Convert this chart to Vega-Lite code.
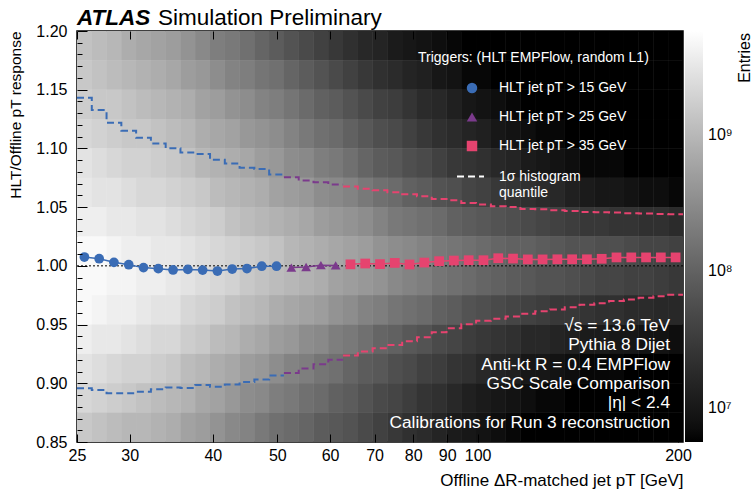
{
"$schema": "https://vega.github.io/schema/vega-lite/v6.json",
"width": 606, "height": 411,
"autosize": {"type": "none"},
"padding": {"left": 77, "top": 31, "right": 73, "bottom": 52},
"background": "white",
"config": {"font": "Liberation Sans", "view": {"stroke": "black", "strokeWidth": 1.5}, "axis": {"grid": false, "labelColor": "black", "titleColor": "black", "titleFontWeight": "normal"}},
"datasets": {
"xbins": [{"i":0,"x0":25,"x1":26.312},{"i":1,"x0":26.312,"x1":27.692},{"i":2,"x0":27.692,"x1":29.145},{"i":3,"x0":29.145,"x1":30.675},{"i":4,"x0":30.675,"x1":32.284},{"i":5,"x0":32.284,"x1":33.978},{"i":6,"x0":33.978,"x1":35.761},{"i":7,"x0":35.761,"x1":37.637},{"i":8,"x0":37.637,"x1":39.612},{"i":9,"x0":39.612,"x1":41.691},{"i":10,"x0":41.691,"x1":43.878},{"i":11,"x0":43.878,"x1":46.18},{"i":12,"x0":46.18,"x1":48.604},{"i":13,"x0":48.604,"x1":51.154},{"i":14,"x0":51.154,"x1":53.838},{"i":15,"x0":53.838,"x1":56.663},{"i":16,"x0":56.663,"x1":59.636},{"i":17,"x0":59.636,"x1":62.765},{"i":18,"x0":62.765,"x1":66.058},{"i":19,"x0":66.058,"x1":69.524},{"i":20,"x0":69.524,"x1":73.172},{"i":21,"x0":73.172,"x1":77.011},{"i":22,"x0":77.011,"x1":81.052},{"i":23,"x0":81.052,"x1":85.305},{"i":24,"x0":85.305,"x1":89.781},{"i":25,"x0":89.781,"x1":94.492},{"i":26,"x0":94.492,"x1":99.45},{"i":27,"x0":99.45,"x1":104.668},{"i":28,"x0":104.668,"x1":110.16},{"i":29,"x0":110.16,"x1":115.94},{"i":30,"x0":115.94,"x1":122.023},{"i":31,"x0":122.023,"x1":128.426},{"i":32,"x0":128.426,"x1":135.164},{"i":33,"x0":135.164,"x1":142.256},{"i":34,"x0":142.256,"x1":149.72},{"i":35,"x0":149.72,"x1":157.576},{"i":36,"x0":157.576,"x1":165.844},{"i":37,"x0":165.844,"x1":174.546},{"i":38,"x0":174.546,"x1":183.704},{"i":39,"x0":183.704,"x1":193.343},{"i":40,"x0":193.343,"x1":203.488}],
"ybins": [{"j":0,"y0":0.85,"y1":0.875},{"j":1,"y0":0.875,"y1":0.9},{"j":2,"y0":0.9,"y1":0.925},{"j":3,"y0":0.925,"y1":0.95},{"j":4,"y0":0.95,"y1":0.975},{"j":5,"y0":0.975,"y1":1.0},{"j":6,"y0":1.0,"y1":1.025},{"j":7,"y0":1.025,"y1":1.05},{"j":8,"y0":1.05,"y1":1.075},{"j":9,"y0":1.075,"y1":1.1},{"j":10,"y0":1.1,"y1":1.125},{"j":11,"y0":1.125,"y1":1.15},{"j":12,"y0":1.15,"y1":1.175},{"j":13,"y0":1.175,"y1":1.2}],
"cells": [
{"i":0,"j":13,"n":1.3e9},{"i":1,"j":13,"n":1.1e9},{"i":2,"j":13,"n":9.8e8},{"i":3,"j":13,"n":7.5e8},{"i":4,"j":13,"n":6.5e8},{"i":5,"j":13,"n":5.7e8},{"i":6,"j":13,"n":5e8},{"i":7,"j":13,"n":3.8e8},{"i":8,"j":13,"n":2.9e8},{"i":9,"j":13,"n":2.2e8},{"i":10,"j":13,"n":1.9e8},{"i":11,"j":13,"n":1.5e8},{"i":12,"j":13,"n":1.1e8},{"i":13,"j":13,"n":8.5e7},{"i":14,"j":13,"n":6.5e7},{"i":15,"j":13,"n":4.9e7},{"i":16,"j":13,"n":3.8e7},{"i":17,"j":13,"n":2.9e7},{"i":18,"j":13,"n":2.2e7},{"i":19,"j":13,"n":1.7e7},{"i":20,"j":13,"n":1.5e7},{"i":21,"j":13,"n":1.1e7},{"i":22,"j":13,"n":9.7e6},{"i":23,"j":13,"n":8.5e6},{"i":24,"j":13,"n":7.4e6},{"i":25,"j":13,"n":6.4e6},{"i":26,"j":13,"n":4e6},{"i":27,"j":13,"n":4e6},{"i":28,"j":13,"n":4e6},{"i":29,"j":13,"n":4e6},{"i":30,"j":13,"n":4e6},{"i":31,"j":13,"n":4e6},{"i":32,"j":13,"n":4e6},{"i":33,"j":13,"n":4e6},{"i":34,"j":13,"n":4e6},{"i":35,"j":13,"n":4e6},{"i":36,"j":13,"n":4e6},{"i":37,"j":13,"n":4e6},{"i":38,"j":13,"n":4e6},{"i":39,"j":13,"n":4e6},{"i":40,"j":13,"n":4e6},
{"i":0,"j":12,"n":1.5e9},{"i":1,"j":12,"n":1.3e9},{"i":2,"j":12,"n":1.1e9},{"i":3,"j":12,"n":9.8e8},{"i":4,"j":12,"n":8.6e8},{"i":5,"j":12,"n":7.5e8},{"i":6,"j":12,"n":6.5e8},{"i":7,"j":12,"n":5e8},{"i":8,"j":12,"n":4.4e8},{"i":9,"j":12,"n":3.3e8},{"i":10,"j":12,"n":2.5e8},{"i":11,"j":12,"n":2.2e8},{"i":12,"j":12,"n":1.7e8},{"i":13,"j":12,"n":1.5e8},{"i":14,"j":12,"n":1.1e8},{"i":15,"j":12,"n":8.5e7},{"i":16,"j":12,"n":6.5e7},{"i":17,"j":12,"n":4.9e7},{"i":18,"j":12,"n":3.8e7},{"i":19,"j":12,"n":2.9e7},{"i":20,"j":12,"n":2.2e7},{"i":21,"j":12,"n":1.9e7},{"i":22,"j":12,"n":1.5e7},{"i":23,"j":12,"n":1.3e7},{"i":24,"j":12,"n":9.7e6},{"i":25,"j":12,"n":8.5e6},{"i":26,"j":12,"n":6.4e6},{"i":27,"j":12,"n":6.4e6},{"i":28,"j":12,"n":4e6},{"i":29,"j":12,"n":4e6},{"i":30,"j":12,"n":4e6},{"i":31,"j":12,"n":4e6},{"i":32,"j":12,"n":4e6},{"i":33,"j":12,"n":4e6},{"i":34,"j":12,"n":4e6},{"i":35,"j":12,"n":4e6},{"i":36,"j":12,"n":4e6},{"i":37,"j":12,"n":4e6},{"i":38,"j":12,"n":4e6},{"i":39,"j":12,"n":4e6},{"i":40,"j":12,"n":4e6},
{"i":0,"j":11,"n":1.7e9},{"i":1,"j":11,"n":1.5e9},{"i":2,"j":11,"n":1.5e9},{"i":3,"j":11,"n":1.3e9},{"i":4,"j":11,"n":1.1e9},{"i":5,"j":11,"n":9.8e8},{"i":6,"j":11,"n":8.6e8},{"i":7,"j":11,"n":7.5e8},{"i":8,"j":11,"n":5.7e8},{"i":9,"j":11,"n":5e8},{"i":10,"j":11,"n":3.8e8},{"i":11,"j":11,"n":3.3e8},{"i":12,"j":11,"n":2.5e8},{"i":13,"j":11,"n":2.2e8},{"i":14,"j":11,"n":1.7e8},{"i":15,"j":11,"n":1.3e8},{"i":16,"j":11,"n":9.8e7},{"i":17,"j":11,"n":8.5e7},{"i":18,"j":11,"n":6.5e7},{"i":19,"j":11,"n":4.9e7},{"i":20,"j":11,"n":3.8e7},{"i":21,"j":11,"n":3.3e7},{"i":22,"j":11,"n":2.5e7},{"i":23,"j":11,"n":1.9e7},{"i":24,"j":11,"n":1.7e7},{"i":25,"j":11,"n":1.3e7},{"i":26,"j":11,"n":9.7e6},{"i":27,"j":11,"n":8.5e6},{"i":28,"j":11,"n":7.4e6},{"i":29,"j":11,"n":6.4e6},{"i":30,"j":11,"n":4e6},{"i":31,"j":11,"n":4e6},{"i":32,"j":11,"n":4e6},{"i":33,"j":11,"n":4e6},{"i":34,"j":11,"n":4e6},{"i":35,"j":11,"n":4e6},{"i":36,"j":11,"n":4e6},{"i":37,"j":11,"n":4e6},{"i":38,"j":11,"n":4e6},{"i":39,"j":11,"n":4e6},{"i":40,"j":11,"n":4e6},
{"i":0,"j":10,"n":2.2e9},{"i":1,"j":10,"n":1.9e9},{"i":2,"j":10,"n":1.7e9},{"i":3,"j":10,"n":1.5e9},{"i":4,"j":10,"n":1.5e9},{"i":5,"j":10,"n":1.3e9},{"i":6,"j":10,"n":1.1e9},{"i":7,"j":10,"n":9.8e8},{"i":8,"j":10,"n":7.5e8},{"i":9,"j":10,"n":6.5e8},{"i":10,"j":10,"n":5.7e8},{"i":11,"j":10,"n":4.4e8},{"i":12,"j":10,"n":3.8e8},{"i":13,"j":10,"n":3.3e8},{"i":14,"j":10,"n":2.5e8},{"i":15,"j":10,"n":1.9e8},{"i":16,"j":10,"n":1.5e8},{"i":17,"j":10,"n":1.3e8},{"i":18,"j":10,"n":9.8e7},{"i":19,"j":10,"n":7.4e7},{"i":20,"j":10,"n":5.7e7},{"i":21,"j":10,"n":4.9e7},{"i":22,"j":10,"n":3.8e7},{"i":23,"j":10,"n":2.9e7},{"i":24,"j":10,"n":2.2e7},{"i":25,"j":10,"n":1.9e7},{"i":26,"j":10,"n":1.5e7},{"i":27,"j":10,"n":1.3e7},{"i":28,"j":10,"n":9.7e6},{"i":29,"j":10,"n":8.5e6},{"i":30,"j":10,"n":7.4e6},{"i":31,"j":10,"n":6.4e6},{"i":32,"j":10,"n":6.4e6},{"i":33,"j":10,"n":4e6},{"i":34,"j":10,"n":4e6},{"i":35,"j":10,"n":4e6},{"i":36,"j":10,"n":4e6},{"i":37,"j":10,"n":4e6},{"i":38,"j":10,"n":4e6},{"i":39,"j":10,"n":4e6},{"i":40,"j":10,"n":4e6},
{"i":0,"j":9,"n":2.9e9},{"i":1,"j":9,"n":2.5e9},{"i":2,"j":9,"n":2.2e9},{"i":3,"j":9,"n":1.9e9},{"i":4,"j":9,"n":1.9e9},{"i":5,"j":9,"n":1.7e9},{"i":6,"j":9,"n":1.5e9},{"i":7,"j":9,"n":1.3e9},{"i":8,"j":9,"n":9.8e8},{"i":9,"j":9,"n":8.6e8},{"i":10,"j":9,"n":7.5e8},{"i":11,"j":9,"n":6.5e8},{"i":12,"j":9,"n":5e8},{"i":13,"j":9,"n":4.4e8},{"i":14,"j":9,"n":3.3e8},{"i":15,"j":9,"n":2.9e8},{"i":16,"j":9,"n":2.2e8},{"i":17,"j":9,"n":1.9e8},{"i":18,"j":9,"n":1.5e8},{"i":19,"j":9,"n":1.1e8},{"i":20,"j":9,"n":8.5e7},{"i":21,"j":9,"n":7.4e7},{"i":22,"j":9,"n":5.7e7},{"i":23,"j":9,"n":4.9e7},{"i":24,"j":9,"n":3.8e7},{"i":25,"j":9,"n":2.9e7},{"i":26,"j":9,"n":2.5e7},{"i":27,"j":9,"n":2.2e7},{"i":28,"j":9,"n":1.7e7},{"i":29,"j":9,"n":1.5e7},{"i":30,"j":9,"n":1.1e7},{"i":31,"j":9,"n":9.7e6},{"i":32,"j":9,"n":8.5e6},{"i":33,"j":9,"n":7.4e6},{"i":34,"j":9,"n":6.4e6},{"i":35,"j":9,"n":6.4e6},{"i":36,"j":9,"n":6.4e6},{"i":37,"j":9,"n":4e6},{"i":38,"j":9,"n":4e6},{"i":39,"j":9,"n":4e6},{"i":40,"j":9,"n":4e6},
{"i":0,"j":8,"n":3.3e9},{"i":1,"j":8,"n":2.9e9},{"i":2,"j":8,"n":2.9e9},{"i":3,"j":8,"n":2.5e9},{"i":4,"j":8,"n":2.2e9},{"i":5,"j":8,"n":2.2e9},{"i":6,"j":8,"n":1.9e9},{"i":7,"j":8,"n":1.7e9},{"i":8,"j":8,"n":1.5e9},{"i":9,"j":8,"n":1.1e9},{"i":10,"j":8,"n":9.8e8},{"i":11,"j":8,"n":8.6e8},{"i":12,"j":8,"n":7.5e8},{"i":13,"j":8,"n":5.7e8},{"i":14,"j":8,"n":5e8},{"i":15,"j":8,"n":4.4e8},{"i":16,"j":8,"n":3.3e8},{"i":17,"j":8,"n":2.9e8},{"i":18,"j":8,"n":2.5e8},{"i":19,"j":8,"n":1.9e8},{"i":20,"j":8,"n":1.5e8},{"i":21,"j":8,"n":1.3e8},{"i":22,"j":8,"n":9.8e7},{"i":23,"j":8,"n":8.5e7},{"i":24,"j":8,"n":6.5e7},{"i":25,"j":8,"n":5.7e7},{"i":26,"j":8,"n":4.3e7},{"i":27,"j":8,"n":3.8e7},{"i":28,"j":8,"n":2.9e7},{"i":29,"j":8,"n":2.5e7},{"i":30,"j":8,"n":2.2e7},{"i":31,"j":8,"n":1.9e7},{"i":32,"j":8,"n":1.7e7},{"i":33,"j":8,"n":1.3e7},{"i":34,"j":8,"n":1.1e7},{"i":35,"j":8,"n":9.7e6},{"i":36,"j":8,"n":9.7e6},{"i":37,"j":8,"n":8.5e6},{"i":38,"j":8,"n":7.4e6},{"i":39,"j":8,"n":7.4e6},{"i":40,"j":8,"n":6.4e6},
{"i":0,"j":7,"n":3.8e9},{"i":1,"j":7,"n":3.8e9},{"i":2,"j":7,"n":3.3e9},{"i":3,"j":7,"n":3.3e9},{"i":4,"j":7,"n":2.9e9},{"i":5,"j":7,"n":2.9e9},{"i":6,"j":7,"n":2.5e9},{"i":7,"j":7,"n":2.2e9},{"i":8,"j":7,"n":1.9e9},{"i":9,"j":7,"n":1.7e9},{"i":10,"j":7,"n":1.3e9},{"i":11,"j":7,"n":1.1e9},{"i":12,"j":7,"n":9.8e8},{"i":13,"j":7,"n":8.6e8},{"i":14,"j":7,"n":7.5e8},{"i":15,"j":7,"n":6.5e8},{"i":16,"j":7,"n":5e8},{"i":17,"j":7,"n":4.4e8},{"i":18,"j":7,"n":3.8e8},{"i":19,"j":7,"n":3.3e8},{"i":20,"j":7,"n":2.5e8},{"i":21,"j":7,"n":1.9e8},{"i":22,"j":7,"n":1.7e8},{"i":23,"j":7,"n":1.5e8},{"i":24,"j":7,"n":1.3e8},{"i":25,"j":7,"n":9.8e7},{"i":26,"j":7,"n":8.5e7},{"i":27,"j":7,"n":7.4e7},{"i":28,"j":7,"n":6.5e7},{"i":29,"j":7,"n":5.7e7},{"i":30,"j":7,"n":4.9e7},{"i":31,"j":7,"n":4.3e7},{"i":32,"j":7,"n":3.8e7},{"i":33,"j":7,"n":3.3e7},{"i":34,"j":7,"n":2.9e7},{"i":35,"j":7,"n":2.9e7},{"i":36,"j":7,"n":2.5e7},{"i":37,"j":7,"n":2.5e7},{"i":38,"j":7,"n":2.2e7},{"i":39,"j":7,"n":2.2e7},{"i":40,"j":7,"n":1.9e7},
{"i":0,"j":6,"n":5e9},{"i":1,"j":6,"n":5e9},{"i":2,"j":6,"n":4.4e9},{"i":3,"j":6,"n":3.8e9},{"i":4,"j":6,"n":3.8e9},{"i":5,"j":6,"n":3.3e9},{"i":6,"j":6,"n":3.3e9},{"i":7,"j":6,"n":2.9e9},{"i":8,"j":6,"n":2.5e9},{"i":9,"j":6,"n":2.2e9},{"i":10,"j":6,"n":1.9e9},{"i":11,"j":6,"n":1.7e9},{"i":12,"j":6,"n":1.5e9},{"i":13,"j":6,"n":1.3e9},{"i":14,"j":6,"n":9.8e8},{"i":15,"j":6,"n":8.6e8},{"i":16,"j":6,"n":7.5e8},{"i":17,"j":6,"n":6.5e8},{"i":18,"j":6,"n":5.7e8},{"i":19,"j":6,"n":5e8},{"i":20,"j":6,"n":3.8e8},{"i":21,"j":6,"n":3.3e8},{"i":22,"j":6,"n":2.9e8},{"i":23,"j":6,"n":2.5e8},{"i":24,"j":6,"n":1.9e8},{"i":25,"j":6,"n":1.7e8},{"i":26,"j":6,"n":1.5e8},{"i":27,"j":6,"n":1.3e8},{"i":28,"j":6,"n":1.1e8},{"i":29,"j":6,"n":9.8e7},{"i":30,"j":6,"n":9.8e7},{"i":31,"j":6,"n":8.5e7},{"i":32,"j":6,"n":7.4e7},{"i":33,"j":6,"n":6.5e7},{"i":34,"j":6,"n":6.5e7},{"i":35,"j":6,"n":5.7e7},{"i":36,"j":6,"n":5.7e7},{"i":37,"j":6,"n":4.9e7},{"i":38,"j":6,"n":4.3e7},{"i":39,"j":6,"n":4.3e7},{"i":40,"j":6,"n":3.8e7},
{"i":0,"j":5,"n":5e9},{"i":1,"j":5,"n":5e9},{"i":2,"j":5,"n":4.4e9},{"i":3,"j":5,"n":4.4e9},{"i":4,"j":5,"n":3.8e9},{"i":5,"j":5,"n":3.8e9},{"i":6,"j":5,"n":3.3e9},{"i":7,"j":5,"n":2.9e9},{"i":8,"j":5,"n":2.5e9},{"i":9,"j":5,"n":2.2e9},{"i":10,"j":5,"n":1.9e9},{"i":11,"j":5,"n":1.5e9},{"i":12,"j":5,"n":1.3e9},{"i":13,"j":5,"n":1.1e9},{"i":14,"j":5,"n":9.8e8},{"i":15,"j":5,"n":8.6e8},{"i":16,"j":5,"n":7.5e8},{"i":17,"j":5,"n":5.7e8},{"i":18,"j":5,"n":5e8},{"i":19,"j":5,"n":4.4e8},{"i":20,"j":5,"n":3.8e8},{"i":21,"j":5,"n":2.9e8},{"i":22,"j":5,"n":2.5e8},{"i":23,"j":5,"n":2.2e8},{"i":24,"j":5,"n":1.7e8},{"i":25,"j":5,"n":1.5e8},{"i":26,"j":5,"n":1.3e8},{"i":27,"j":5,"n":1.1e8},{"i":28,"j":5,"n":9.8e7},{"i":29,"j":5,"n":8.5e7},{"i":30,"j":5,"n":7.4e7},{"i":31,"j":5,"n":6.5e7},{"i":32,"j":5,"n":6.5e7},{"i":33,"j":5,"n":5.7e7},{"i":34,"j":5,"n":4.9e7},{"i":35,"j":5,"n":4.3e7},{"i":36,"j":5,"n":4.3e7},{"i":37,"j":5,"n":3.8e7},{"i":38,"j":5,"n":3.8e7},{"i":39,"j":5,"n":3.3e7},{"i":40,"j":5,"n":2.9e7},
{"i":0,"j":4,"n":5e9},{"i":1,"j":4,"n":4.4e9},{"i":2,"j":4,"n":3.8e9},{"i":3,"j":4,"n":3.8e9},{"i":4,"j":4,"n":3.3e9},{"i":5,"j":4,"n":2.9e9},{"i":6,"j":4,"n":2.9e9},{"i":7,"j":4,"n":2.2e9},{"i":8,"j":4,"n":1.9e9},{"i":9,"j":4,"n":1.7e9},{"i":10,"j":4,"n":1.3e9},{"i":11,"j":4,"n":1.1e9},{"i":12,"j":4,"n":9.8e8},{"i":13,"j":4,"n":7.5e8},{"i":14,"j":4,"n":6.5e8},{"i":15,"j":4,"n":5.7e8},{"i":16,"j":4,"n":5e8},{"i":17,"j":4,"n":3.8e8},{"i":18,"j":4,"n":3.3e8},{"i":19,"j":4,"n":2.5e8},{"i":20,"j":4,"n":2.2e8},{"i":21,"j":4,"n":1.7e8},{"i":22,"j":4,"n":1.5e8},{"i":23,"j":4,"n":1.3e8},{"i":24,"j":4,"n":9.8e7},{"i":25,"j":4,"n":8.5e7},{"i":26,"j":4,"n":6.5e7},{"i":27,"j":4,"n":5.7e7},{"i":28,"j":4,"n":4.9e7},{"i":29,"j":4,"n":4.3e7},{"i":30,"j":4,"n":3.8e7},{"i":31,"j":4,"n":3.3e7},{"i":32,"j":4,"n":2.9e7},{"i":33,"j":4,"n":2.9e7},{"i":34,"j":4,"n":2.5e7},{"i":35,"j":4,"n":2.2e7},{"i":36,"j":4,"n":2.2e7},{"i":37,"j":4,"n":1.9e7},{"i":38,"j":4,"n":1.9e7},{"i":39,"j":4,"n":1.7e7},{"i":40,"j":4,"n":1.7e7},
{"i":0,"j":3,"n":3.8e9},{"i":1,"j":3,"n":3.3e9},{"i":2,"j":3,"n":3.3e9},{"i":3,"j":3,"n":2.9e9},{"i":4,"j":3,"n":2.5e9},{"i":5,"j":3,"n":2.2e9},{"i":6,"j":3,"n":2.2e9},{"i":7,"j":3,"n":1.7e9},{"i":8,"j":3,"n":1.5e9},{"i":9,"j":3,"n":1.1e9},{"i":10,"j":3,"n":9.8e8},{"i":11,"j":3,"n":7.5e8},{"i":12,"j":3,"n":6.5e8},{"i":13,"j":3,"n":5e8},{"i":14,"j":3,"n":4.4e8},{"i":15,"j":3,"n":3.3e8},{"i":16,"j":3,"n":2.9e8},{"i":17,"j":3,"n":2.2e8},{"i":18,"j":3,"n":1.9e8},{"i":19,"j":3,"n":1.5e8},{"i":20,"j":3,"n":1.1e8},{"i":21,"j":3,"n":9.8e7},{"i":22,"j":3,"n":7.4e7},{"i":23,"j":3,"n":6.5e7},{"i":24,"j":3,"n":4.9e7},{"i":25,"j":3,"n":4.3e7},{"i":26,"j":3,"n":3.3e7},{"i":27,"j":3,"n":2.9e7},{"i":28,"j":3,"n":2.5e7},{"i":29,"j":3,"n":2.2e7},{"i":30,"j":3,"n":1.7e7},{"i":31,"j":3,"n":1.7e7},{"i":32,"j":3,"n":1.5e7},{"i":33,"j":3,"n":1.3e7},{"i":34,"j":3,"n":1.1e7},{"i":35,"j":3,"n":1.1e7},{"i":36,"j":3,"n":9.7e6},{"i":37,"j":3,"n":9.7e6},{"i":38,"j":3,"n":8.5e6},{"i":39,"j":3,"n":8.5e6},{"i":40,"j":3,"n":7.4e6},
{"i":0,"j":2,"n":2.9e9},{"i":1,"j":2,"n":2.5e9},{"i":2,"j":2,"n":2.2e9},{"i":3,"j":2,"n":1.9e9},{"i":4,"j":2,"n":1.9e9},{"i":5,"j":2,"n":1.7e9},{"i":6,"j":2,"n":1.5e9},{"i":7,"j":2,"n":1.1e9},{"i":8,"j":2,"n":9.8e8},{"i":9,"j":2,"n":7.5e8},{"i":10,"j":2,"n":6.5e8},{"i":11,"j":2,"n":5e8},{"i":12,"j":2,"n":4.4e8},{"i":13,"j":2,"n":3.3e8},{"i":14,"j":2,"n":2.5e8},{"i":15,"j":2,"n":2.2e8},{"i":16,"j":2,"n":1.7e8},{"i":17,"j":2,"n":1.5e8},{"i":18,"j":2,"n":1.1e8},{"i":19,"j":2,"n":8.5e7},{"i":20,"j":2,"n":7.4e7},{"i":21,"j":2,"n":5.7e7},{"i":22,"j":2,"n":4.9e7},{"i":23,"j":2,"n":3.8e7},{"i":24,"j":2,"n":3.3e7},{"i":25,"j":2,"n":2.5e7},{"i":26,"j":2,"n":2.2e7},{"i":27,"j":2,"n":1.7e7},{"i":28,"j":2,"n":1.5e7},{"i":29,"j":2,"n":1.3e7},{"i":30,"j":2,"n":9.7e6},{"i":31,"j":2,"n":9.7e6},{"i":32,"j":2,"n":8.5e6},{"i":33,"j":2,"n":7.4e6},{"i":34,"j":2,"n":6.4e6},{"i":35,"j":2,"n":6.4e6},{"i":36,"j":2,"n":6.4e6},{"i":37,"j":2,"n":4e6},{"i":38,"j":2,"n":4e6},{"i":39,"j":2,"n":4e6},{"i":40,"j":2,"n":4e6},
{"i":0,"j":1,"n":2.2e9},{"i":1,"j":1,"n":1.9e9},{"i":2,"j":1,"n":1.7e9},{"i":3,"j":1,"n":1.5e9},{"i":4,"j":1,"n":1.3e9},{"i":5,"j":1,"n":1.1e9},{"i":6,"j":1,"n":9.8e8},{"i":7,"j":1,"n":8.6e8},{"i":8,"j":1,"n":6.5e8},{"i":9,"j":1,"n":5.7e8},{"i":10,"j":1,"n":4.4e8},{"i":11,"j":1,"n":3.3e8},{"i":12,"j":1,"n":2.9e8},{"i":13,"j":1,"n":2.2e8},{"i":14,"j":1,"n":1.9e8},{"i":15,"j":1,"n":1.5e8},{"i":16,"j":1,"n":1.3e8},{"i":17,"j":1,"n":9.8e7},{"i":18,"j":1,"n":8.5e7},{"i":19,"j":1,"n":6.5e7},{"i":20,"j":1,"n":4.9e7},{"i":21,"j":1,"n":4.3e7},{"i":22,"j":1,"n":3.3e7},{"i":23,"j":1,"n":2.5e7},{"i":24,"j":1,"n":2.2e7},{"i":25,"j":1,"n":1.7e7},{"i":26,"j":1,"n":1.3e7},{"i":27,"j":1,"n":1.1e7},{"i":28,"j":1,"n":9.7e6},{"i":29,"j":1,"n":8.5e6},{"i":30,"j":1,"n":7.4e6},{"i":31,"j":1,"n":6.4e6},{"i":32,"j":1,"n":6.4e6},{"i":33,"j":1,"n":4e6},{"i":34,"j":1,"n":4e6},{"i":35,"j":1,"n":4e6},{"i":36,"j":1,"n":4e6},{"i":37,"j":1,"n":4e6},{"i":38,"j":1,"n":4e6},{"i":39,"j":1,"n":4e6},{"i":40,"j":1,"n":4e6},
{"i":0,"j":0,"n":1.5e9},{"i":1,"j":0,"n":1.3e9},{"i":2,"j":0,"n":1.1e9},{"i":3,"j":0,"n":9.8e8},{"i":4,"j":0,"n":9.8e8},{"i":5,"j":0,"n":8.6e8},{"i":6,"j":0,"n":7.5e8},{"i":7,"j":0,"n":5.7e8},{"i":8,"j":0,"n":5e8},{"i":9,"j":0,"n":3.8e8},{"i":10,"j":0,"n":2.9e8},{"i":11,"j":0,"n":2.5e8},{"i":12,"j":0,"n":1.9e8},{"i":13,"j":0,"n":1.5e8},{"i":14,"j":0,"n":1.3e8},{"i":15,"j":0,"n":1.1e8},{"i":16,"j":0,"n":8.5e7},{"i":17,"j":0,"n":7.4e7},{"i":18,"j":0,"n":6.5e7},{"i":19,"j":0,"n":4.9e7},{"i":20,"j":0,"n":3.8e7},{"i":21,"j":0,"n":2.9e7},{"i":22,"j":0,"n":2.2e7},{"i":23,"j":0,"n":1.9e7},{"i":24,"j":0,"n":1.5e7},{"i":25,"j":0,"n":1.1e7},{"i":26,"j":0,"n":9.7e6},{"i":27,"j":0,"n":8.5e6},{"i":28,"j":0,"n":7.4e6},{"i":29,"j":0,"n":6.4e6},{"i":30,"j":0,"n":4e6},{"i":31,"j":0,"n":4e6},{"i":32,"j":0,"n":4e6},{"i":33,"j":0,"n":4e6},{"i":34,"j":0,"n":4e6},{"i":35,"j":0,"n":4e6},{"i":36,"j":0,"n":4e6},{"i":37,"j":0,"n":4e6},{"i":38,"j":0,"n":4e6},{"i":39,"j":0,"n":4e6},{"i":40,"j":0,"n":4e6}
],
"pts": [
{"x":25.648,"r":1.0075,"trig":"HLT jet pT > 15 GeV"},{"x":26.993,"r":1.0061,"trig":"HLT jet pT > 15 GeV"},{"x":28.409,"r":1.003,"trig":"HLT jet pT > 15 GeV"},{"x":29.9,"r":1.001,"trig":"HLT jet pT > 15 GeV"},{"x":31.469,"r":0.9985,"trig":"HLT jet pT > 15 GeV"},{"x":33.12,"r":0.9976,"trig":"HLT jet pT > 15 GeV"},{"x":34.858,"r":0.9965,"trig":"HLT jet pT > 15 GeV"},{"x":36.687,"r":0.997,"trig":"HLT jet pT > 15 GeV"},{"x":38.612,"r":0.9964,"trig":"HLT jet pT > 15 GeV"},{"x":40.638,"r":0.9956,"trig":"HLT jet pT > 15 GeV"},{"x":42.771,"r":0.9973,"trig":"HLT jet pT > 15 GeV"},{"x":45.014,"r":0.9977,"trig":"HLT jet pT > 15 GeV"},{"x":47.376,"r":0.9997,"trig":"HLT jet pT > 15 GeV"},{"x":49.863,"r":0.9997,"trig":"HLT jet pT > 15 GeV"},
{"x":52.479,"r":0.9985,"trig":"HLT jet pT > 25 GeV"},{"x":55.232,"r":0.999,"trig":"HLT jet pT > 25 GeV"},{"x":58.131,"r":1.0006,"trig":"HLT jet pT > 25 GeV"},{"x":61.181,"r":1.0004,"trig":"HLT jet pT > 25 GeV"},
{"x":64.391,"r":1.0013,"trig":"HLT jet pT > 35 GeV"},{"x":67.769,"r":1.002,"trig":"HLT jet pT > 35 GeV"},{"x":71.325,"r":1.0015,"trig":"HLT jet pT > 35 GeV"},{"x":75.067,"r":1.0025,"trig":"HLT jet pT > 35 GeV"},{"x":79.006,"r":1.0012,"trig":"HLT jet pT > 35 GeV"},{"x":83.151,"r":1.0028,"trig":"HLT jet pT > 35 GeV"},{"x":87.514,"r":1.004,"trig":"HLT jet pT > 35 GeV"},{"x":92.106,"r":1.0045,"trig":"HLT jet pT > 35 GeV"},{"x":96.939,"r":1.0048,"trig":"HLT jet pT > 35 GeV"},{"x":102.026,"r":1.0048,"trig":"HLT jet pT > 35 GeV"},{"x":107.379,"r":1.0065,"trig":"HLT jet pT > 35 GeV"},{"x":113.013,"r":1.0062,"trig":"HLT jet pT > 35 GeV"},{"x":118.943,"r":1.0055,"trig":"HLT jet pT > 35 GeV"},{"x":125.183,"r":1.0055,"trig":"HLT jet pT > 35 GeV"},{"x":131.752,"r":1.0056,"trig":"HLT jet pT > 35 GeV"},{"x":138.665,"r":1.0056,"trig":"HLT jet pT > 35 GeV"},{"x":145.94,"r":1.0056,"trig":"HLT jet pT > 35 GeV"},{"x":153.598,"r":1.006,"trig":"HLT jet pT > 35 GeV"},{"x":161.657,"r":1.0072,"trig":"HLT jet pT > 35 GeV"},{"x":170.139,"r":1.0072,"trig":"HLT jet pT > 35 GeV"},{"x":179.067,"r":1.0072,"trig":"HLT jet pT > 35 GeV"},{"x":188.462,"r":1.0072,"trig":"HLT jet pT > 35 GeV"},{"x":198.351,"r":1.0072,"trig":"HLT jet pT > 35 GeV"}
],
"qnt": [
{"x":25,"hi":1.1432,"lo":0.8957,"trig":"HLT jet pT > 15 GeV"},{"x":26.312,"hi":1.1327,"lo":0.8943,"trig":"HLT jet pT > 15 GeV"},{"x":27.692,"hi":1.1219,"lo":0.8916,"trig":"HLT jet pT > 15 GeV"},{"x":29.145,"hi":1.1151,"lo":0.8916,"trig":"HLT jet pT > 15 GeV"},{"x":30.675,"hi":1.1091,"lo":0.8927,"trig":"HLT jet pT > 15 GeV"},{"x":32.284,"hi":1.1043,"lo":0.895,"trig":"HLT jet pT > 15 GeV"},{"x":33.978,"hi":1.1001,"lo":0.8965,"trig":"HLT jet pT > 15 GeV"},{"x":35.761,"hi":1.0966,"lo":0.8959,"trig":"HLT jet pT > 15 GeV"},{"x":37.637,"hi":1.0952,"lo":0.8986,"trig":"HLT jet pT > 15 GeV"},{"x":39.612,"hi":1.0903,"lo":0.8971,"trig":"HLT jet pT > 15 GeV"},{"x":41.691,"hi":1.0872,"lo":0.899,"trig":"HLT jet pT > 15 GeV"},{"x":43.878,"hi":1.0835,"lo":0.9011,"trig":"HLT jet pT > 15 GeV"},{"x":46.18,"hi":1.0824,"lo":0.9033,"trig":"HLT jet pT > 15 GeV"},{"x":48.604,"hi":1.0779,"lo":0.9067,"trig":"HLT jet pT > 15 GeV"},{"x":51.154,"hi":1.0779,"lo":0.9067,"trig":"HLT jet pT > 15 GeV"},
{"x":51.154,"hi":1.0754,"lo":0.9087,"trig":"HLT jet pT > 25 GeV"},{"x":53.838,"hi":1.0726,"lo":0.9125,"trig":"HLT jet pT > 25 GeV"},{"x":56.663,"hi":1.0711,"lo":0.9162,"trig":"HLT jet pT > 25 GeV"},{"x":59.636,"hi":1.0693,"lo":0.92,"trig":"HLT jet pT > 25 GeV"},{"x":62.765,"hi":1.0693,"lo":0.92,"trig":"HLT jet pT > 25 GeV"},
{"x":62.765,"hi":1.0676,"lo":0.9236,"trig":"HLT jet pT > 35 GeV"},{"x":66.058,"hi":1.0656,"lo":0.927,"trig":"HLT jet pT > 35 GeV"},{"x":69.524,"hi":1.0643,"lo":0.9298,"trig":"HLT jet pT > 35 GeV"},{"x":73.172,"hi":1.0627,"lo":0.9326,"trig":"HLT jet pT > 35 GeV"},{"x":77.011,"hi":1.061,"lo":0.9357,"trig":"HLT jet pT > 35 GeV"},{"x":81.052,"hi":1.0593,"lo":0.9392,"trig":"HLT jet pT > 35 GeV"},{"x":85.305,"hi":1.057,"lo":0.9434,"trig":"HLT jet pT > 35 GeV"},{"x":89.781,"hi":1.0559,"lo":0.9468,"trig":"HLT jet pT > 35 GeV"},{"x":94.492,"hi":1.0536,"lo":0.9502,"trig":"HLT jet pT > 35 GeV"},{"x":99.45,"hi":1.0523,"lo":0.9532,"trig":"HLT jet pT > 35 GeV"},{"x":104.668,"hi":1.0508,"lo":0.9549,"trig":"HLT jet pT > 35 GeV"},{"x":110.16,"hi":1.0502,"lo":0.9569,"trig":"HLT jet pT > 35 GeV"},{"x":115.94,"hi":1.0485,"lo":0.9592,"trig":"HLT jet pT > 35 GeV"},{"x":122.023,"hi":1.0482,"lo":0.9614,"trig":"HLT jet pT > 35 GeV"},{"x":128.426,"hi":1.0474,"lo":0.9629,"trig":"HLT jet pT > 35 GeV"},{"x":135.164,"hi":1.0468,"lo":0.9648,"trig":"HLT jet pT > 35 GeV"},{"x":142.256,"hi":1.0459,"lo":0.9669,"trig":"HLT jet pT > 35 GeV"},{"x":149.72,"hi":1.0457,"lo":0.9682,"trig":"HLT jet pT > 35 GeV"},{"x":157.576,"hi":1.0454,"lo":0.97,"trig":"HLT jet pT > 35 GeV"},{"x":165.844,"hi":1.0448,"lo":0.9714,"trig":"HLT jet pT > 35 GeV"},{"x":174.546,"hi":1.0446,"lo":0.9729,"trig":"HLT jet pT > 35 GeV"},{"x":183.704,"hi":1.0442,"lo":0.9742,"trig":"HLT jet pT > 35 GeV"},{"x":193.343,"hi":1.044,"lo":0.9754,"trig":"HLT jet pT > 35 GeV"},{"x":203.488,"hi":1.044,"lo":0.9754,"trig":"HLT jet pT > 35 GeV"}
]
},
"resolve": {"axis": {"x": "independent", "y": "independent"}},
"layer": [
{
"data": {"name": "cells"},
"transform": [
{"lookup": "i", "from": {"data": {"name": "xbins"}, "key": "i", "fields": ["x0", "x1"]}},
{"lookup": "j", "from": {"data": {"name": "ybins"}, "key": "j", "fields": ["y0", "y1"]}}
],
"mark": {"type": "rect", "strokeWidth": 0},
"encoding": {
"x": {"field": "x0", "type": "quantitative", "scale": {"type": "log", "domain": [25, 203.488], "nice": false},
 "axis": {"orient": "bottom", "values": [25,30,40,50,60,70,80,90,100,200], "format": "d", "ticks": false, "domain": false, "labelFontSize": 16, "labelPadding": 5, "labelFlush": false, "title": "Offline ΔR-matched jet pT [GeV]", "titleAnchor": "end", "titleFontSize": 17, "titlePadding": 9}},
"x2": {"field": "x1"},
"y": {"field": "y0", "type": "quantitative", "scale": {"domain": [0.85, 1.2], "nice": false, "zero": false},
 "axis": {"orient": "left", "values": [0.85,0.9,0.95,1.0,1.05,1.1,1.15,1.2], "format": ".2f", "ticks": false, "domain": false, "labelFontSize": 16, "labelPadding": 10, "title": "HLT/Offline pT response", "titleAnchor": "end", "titleFontSize": 15.5, "titlePadding": 12}},
"y2": {"field": "y1"},
"fill": {"field": "n", "type": "quantitative", "scale": {"type": "log", "domain": [5.6e6, 5.75e9], "range": ["#000000", "#ffffff"], "clamp": true},
 "legend": {"title": null, "orient": "none", "legendX": 608, "legendY": 0, "direction": "vertical", "gradientLength": 411, "gradientThickness": 18, "values": [1e7, 1e8, 1e9], "labelExpr": "datum.value < 5e7 ? '10⁷' : datum.value < 5e8 ? '10⁸' : '10⁹'", "labelFontSize": 16, "labelColor": "black", "labelOffset": 5, "gradientStrokeWidth": 0, "padding": 0, "labelOverlap": false}}
}
},
{
"data": {"name": "cells"},
"transform": [
{"lookup": "i", "from": {"data": {"name": "xbins"}, "key": "i", "fields": ["x0", "x1"]}},
{"lookup": "j", "from": {"data": {"name": "ybins"}, "key": "j", "fields": ["y0", "y1"]}}
],
"mark": {"type": "rect", "strokeWidth": 0},
"encoding": {
"x": {"field": "x0", "type": "quantitative", "scale": {"type": "log", "domain": [25, 203.488], "nice": false}, "axis": null},
"x2": {"field": "x1"},
"y": {"field": "y0", "type": "quantitative", "scale": {"domain": [0.85, 1.2], "nice": false, "zero": false}, "axis": null},
"y2": {"field": "y1"},
"fill": {"field": "n", "type": "quantitative", "scale": {"type": "log", "domain": [5.6e6, 5.75e9], "range": ["#000000", "#ffffff"], "clamp": true},
 "legend": {"title": null, "orient": "none", "legendX": 608, "legendY": 0, "direction": "vertical", "gradientLength": 411, "gradientThickness": 18, "values": [1e7, 1e8, 1e9], "labelExpr": "datum.value < 5e7 ? '10⁷' : datum.value < 5e8 ? '10⁸' : '10⁹'", "labelFontSize": 16, "labelColor": "black", "labelOffset": 5, "gradientStrokeWidth": 0, "padding": 0, "labelOverlap": false}}
}
},
{
"data": {"values": [{}]},
"mark": {"type": "rule", "color": "black", "strokeWidth": 1, "strokeDash": [2, 2]},
"encoding": {
"y": {"datum": 1, "type": "quantitative", "scale": {"domain": [0.85, 1.2], "nice": false, "zero": false},
 "axis": {"orient": "left", "values": [0.85,0.9,0.95,1.0,1.05,1.1,1.15,1.2], "labels": false, "domain": false, "title": null, "tickSize": -10, "tickColor": "black", "tickWidth": 1, "zindex": 2}}
}
},
{
"data": {"name": "qnt"},
"mark": {"type": "line", "interpolate": "step-after", "strokeWidth": 2},
"encoding": {
"x": {"field": "x", "type": "quantitative", "scale": {"type": "log", "domain": [25, 203.488], "nice": false},
 "axis": {"orient": "bottom", "values": [25,30,40,50,60,70,80,90,100,200], "labels": false, "domain": false, "title": null, "tickSize": -8, "tickColor": "black", "zindex": 2}},
"y": {"field": "hi", "type": "quantitative", "scale": {"domain": [0.85, 1.2], "nice": false, "zero": false},
 "axis": {"orient": "left", "values": [0.86,0.87,0.88,0.89,0.91,0.92,0.93,0.94,0.96,0.97,0.98,0.99,1.01,1.02,1.03,1.04,1.06,1.07,1.08,1.09,1.11,1.12,1.13,1.14,1.16,1.17,1.18,1.19], "labels": false, "domain": false, "title": null, "tickSize": -5, "tickColor": "black", "zindex": 2}},
"stroke": {"field": "trig", "type": "nominal", "scale": {"range": ["#3a6cb5", "#7b3a8c", "#e6436f"]}, "legend": null},
"strokeDash": {"datum": "1σ histogram quantile", "type": "nominal", "scale": {"range": [[7, 4]]},
 "legend": {"title": null, "orient": "none", "legendX": 379, "legendY": 131, "labelColor": "white", "labelFontSize": 14, "labelLimit": 300, "symbolType": "stroke", "symbolStrokeColor": "white", "symbolStrokeWidth": 2, "symbolSize": 729, "symbolDash": [4.5, 2.5], "labelOffset": 14, "labelExpr": "['1σ histogram', 'quantile']", "padding": 0}}
}
},
{
"data": {"name": "qnt"},
"mark": {"type": "line", "interpolate": "step-after", "strokeWidth": 2, "strokeDash": [7, 4]},
"encoding": {
"x": {"field": "x", "type": "quantitative", "scale": {"type": "log", "domain": [25, 203.488], "nice": false},
 "axis": {"orient": "top", "values": [25,30,40,50,60,70,80,90,100,200], "labels": false, "domain": false, "title": null, "tickSize": -8, "tickColor": "black", "zindex": 2}},
"y": {"field": "lo", "type": "quantitative", "scale": {"domain": [0.85, 1.2], "nice": false, "zero": false}, "axis": null},
"stroke": {"field": "trig", "type": "nominal", "legend": null}
}
},
{
"data": {"name": "pts"},
"mark": {"type": "line", "strokeWidth": 1.5},
"encoding": {
"x": {"field": "x", "type": "quantitative", "scale": {"type": "log", "domain": [25, 203.488], "nice": false}, "axis": null},
"y": {"field": "r", "type": "quantitative", "scale": {"domain": [0.85, 1.2], "nice": false, "zero": false}, "axis": null},
"stroke": {"field": "trig", "type": "nominal", "legend": null}
}
},
{
"data": {"name": "pts"},
"mark": {"type": "point", "filled": true, "size": 95, "opacity": 1},
"encoding": {
"x": {"field": "x", "type": "quantitative", "scale": {"type": "log", "domain": [25, 203.488], "nice": false}, "axis": null},
"y": {"field": "r", "type": "quantitative", "scale": {"domain": [0.85, 1.2], "nice": false, "zero": false}, "axis": null},
"color": {"field": "trig", "type": "nominal", "scale": {"domain": ["HLT jet pT > 15 GeV", "HLT jet pT > 25 GeV", "HLT jet pT > 35 GeV"], "range": ["#3a6cb5", "#7b3a8c", "#e6436f"]},
 "legend": {"title": "Triggers: (HLT EMPFlow, random L1)", "orient": "none", "legendX": 341, "legendY": 20, "titleColor": "white", "titleFontSize": 14, "titleFontWeight": "normal", "titleLimit": 400, "labelLimit": 300, "labelColor": "white", "labelFontSize": 14, "symbolOffset": 47, "labelOffset": 20, "rowPadding": 15, "titlePadding": 16, "symbolSize": 110, "symbolStrokeWidth": 0, "padding": 0}},
"shape": {"field": "trig", "type": "nominal", "scale": {"domain": ["HLT jet pT > 15 GeV", "HLT jet pT > 25 GeV", "HLT jet pT > 35 GeV"], "range": ["circle", "triangle-up", "square"]},
 "legend": {"title": "Triggers: (HLT EMPFlow, random L1)", "orient": "none", "legendX": 341, "legendY": 20, "titleColor": "white", "titleFontSize": 14, "titleFontWeight": "normal", "titleLimit": 400, "labelLimit": 300, "labelColor": "white", "labelFontSize": 14, "symbolOffset": 47, "labelOffset": 20, "rowPadding": 15, "titlePadding": 16, "symbolSize": 110, "symbolStrokeWidth": 0, "padding": 0}}
}
},
{
"data": {"values": [{}]},
"mark": {"type": "text", "text": "ATLAS", "fontSize": 22.5, "fontWeight": "bold", "fontStyle": "italic", "align": "left", "baseline": "alphabetic", "dy": -6, "color": "black"},
"encoding": {
"x": {"datum": 25, "type": "quantitative", "scale": {"type": "log", "domain": [25, 203.488], "nice": false}, "axis": null},
"y": {"datum": 1.2, "type": "quantitative", "scale": {"domain": [0.85, 1.2], "nice": false, "zero": false}, "axis": null}
}
},
{
"data": {"values": [{}]},
"mark": {"type": "text", "text": "Simulation Preliminary", "fontSize": 22.5, "align": "left", "baseline": "alphabetic", "dx": 81, "dy": -6, "color": "black"},
"encoding": {
"x": {"datum": 25, "type": "quantitative", "scale": {"type": "log", "domain": [25, 203.488], "nice": false}, "axis": null},
"y": {"datum": 1.2, "type": "quantitative", "scale": {"domain": [0.85, 1.2], "nice": false, "zero": false}, "axis": null}
}
},
{
"data": {"values": [{}]},
"mark": {"type": "text", "text": ["√s = 13.6 TeV", "Pythia 8 Dijet", "Anti-kt R = 0.4 EMPFlow", "GSC Scale Comparison", "|η| < 2.4", "Calibrations for Run 3 reconstruction"], "lineHeight": 19.3, "fontSize": 17.3, "align": "right", "baseline": "alphabetic", "dx": -13, "dy": -111, "color": "white"},
"encoding": {
"x": {"datum": 203.488, "type": "quantitative", "scale": {"type": "log", "domain": [25, 203.488], "nice": false}, "axis": null},
"y": {"datum": 0.85, "type": "quantitative", "scale": {"domain": [0.85, 1.2], "nice": false, "zero": false}, "axis": null}
}
},
{
"data": {"values": [{}]},
"mark": {"type": "text", "text": "Entries", "fontSize": 16, "angle": 270, "align": "right", "baseline": "middle", "dx": -2, "dy": 62, "color": "black"},
"encoding": {
"x": {"datum": 203.488, "type": "quantitative", "scale": {"type": "log", "domain": [25, 203.488], "nice": false}, "axis": null},
"y": {"datum": 1.2, "type": "quantitative", "scale": {"domain": [0.85, 1.2], "nice": false, "zero": false}, "axis": null}
}
}
]
}
